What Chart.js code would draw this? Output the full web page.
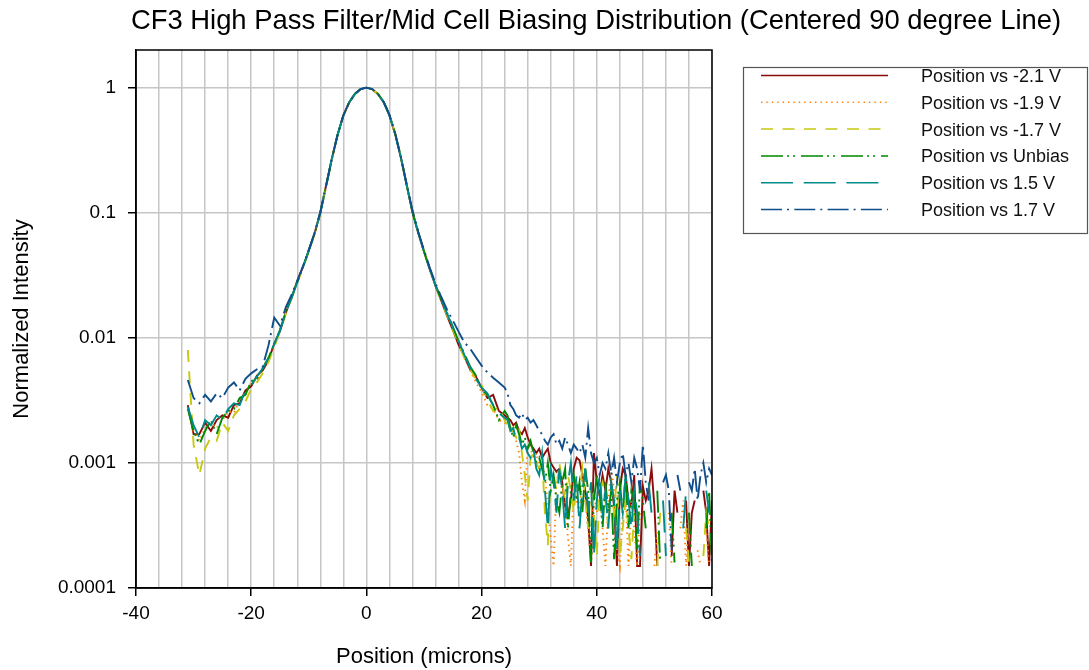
<!DOCTYPE html>
<html>
<head>
<meta charset="utf-8">
<script src="https://cdn.jsdelivr.net/npm/chart.js@4.4.0/dist/chart.umd.min.js"></script>
<style>
  body { margin: 0; background: #fff; }
</style>
</head>
<body>
<canvas id="myChart" width="1089" height="670"></canvas>
<script>
const chartTitle = `CF3 High Pass Filter/Mid Cell Biasing Distribution (Centered 90 degree Line)`
const seriesNames = [`Position vs -2.1 V`, `Position vs -1.9 V`, `Position vs -1.7 V`, `Position vs Unbias`, `Position vs 1.5 V`, `Position vs 1.7 V`]
const yTicks = [0.0001, 0.001, 0.01, 0.1, 1]

// position in microns
const positions = [
  -31,-30,-29,-28,-27,-26,-25,-24,-23,-22,-21,-20,
  -19,-18,-17,-16,-15,-14,-13,-12,-11,-10,-9,-8,
  -7,-6,-5,-4,-3,-2,-1,0,1,2,3,4,
  5,6,7,8,9,10,11,12,13,14,15,16,
  17,18,19,20,21,22,23,24,
  24.5,25,25.5,26,26.5,27,27.5,28,28.5,29,29.5,30,
  30.5,31,31.5,32,32.5,33,33.5,34,34.5,35,35.5,36,
  36.5,37,37.5,38,38.5,39,39.5,40,40.5,41,41.5,42,
  42.5,43,43.5,44,44.5,45,45.5,46,46.5,47,47.5,48,
  48.5,49,49.5,50,50.5,51,51.5,52,52.5,53,53.5,54,
  54.5,55,55.5,56,56.5,57,57.5,58,58.5,59,59.5,60
]

const minus21 = [
  0.0029,0.0017,0.0017,0.0021,0.0018,0.0022,0.0024,0.0023,0.0029,0.0030,0.0038,0.0041,
  0.0050,0.0055,0.0066,0.0090,0.0113,0.0158,0.021,0.0285,0.037,0.050,0.068,0.101,
  0.165,0.27,0.42,0.6,0.762,0.89,0.975,1,0.972,0.89,0.765,0.6,
  0.425,0.274,0.166,0.101,0.069,0.049,0.0352,0.026,0.0198,0.015,0.0116,0.0088,
  0.0071,0.0056,0.0049,0.0040,0.0033,0.0035,0.0026,0.0024,
  0.0023,0.0022,0.0020,0.0021,0.0018,0.0017,0.0019,0.0016,0.0014,0.0013,0.0012,0.0013,
  0.0011,0.0012,0.0013,0.0010,0.00092,0.00085,0.0009,0.0007,0.00045,0.00038,0.0005,0.0009,
  0.0011,0.00105,0.0008,0.0006,0.00035,0.00015,0.0012,0.0007,0.00055,0.0008,0.0006,0.0009,
  0.0007,0.00045,0.00015,0.0006,0.0009,0.0008,0.0005,0.00045,0.0008,0.00015,0.00015,0.00065,
  0.0005,0.0006,0.0009,0.00045,0.00015,null,null,null,null,0.00018,0.0006,0.0004,
  null,null,0.0005,0.00015,0.0004,0.0005,null,null,0.0006,0.0004,0.00015,0.0005
]

const minus19 = [
  0.0027,0.0018,0.0015,0.0019,0.0021,0.0019,0.0022,0.0026,0.0025,0.0032,0.0035,0.0044,
  0.0046,0.0058,0.0070,0.0086,0.0116,0.0162,0.0212,0.028,0.0372,0.0502,0.068,0.1,
  0.163,0.27,0.421,0.6,0.76,0.89,0.975,1,0.973,0.891,0.767,0.603,
  0.427,0.275,0.166,0.102,0.0692,0.049,0.0355,0.0265,0.0201,0.0153,0.0119,0.0092,
  0.0071,0.0055,0.0044,0.0037,0.0029,0.0027,0.0022,0.0021,
  0.0020,0.0019,0.0017,0.0015,0.0012,0.0007,0.0005,0.0014,0.0013,0.0011,0.0012,0.0009,
  0.0010,0.0008,0.00045,0.00025,0.00015,0.0007,0.0009,0.0006,0.0005,0.00025,0.00015,0.0007,
  0.0005,0.0004,0.0008,0.0005,0.0003,0.00016,0.0006,0.0004,0.0007,0.0003,0.00015,0.0005,
  0.0009,0.0006,0.0002,0.00015,0.0004,0.0006,0.00015,0.0005,0.0003,0.00015,0.0004,null,
  null,null,null,0.00015,0.0003,null,null,null,0.0004,0.00015,null,null,
  0.0003,0.0005,0.00015,0.0004,null,null,0.0002,0.00015,null,0.0003,0.00015,null
]

const minus17 = [
  0.0080,0.0014,0.0008,0.0013,0.0016,0.0015,0.0021,0.0018,0.0024,0.0027,0.0031,0.0039,
  0.0044,0.0052,0.0064,0.0084,0.0112,0.0155,0.0205,0.0275,0.036,0.049,0.067,0.098,
  0.16,0.265,0.415,0.595,0.758,0.888,0.975,1,0.975,0.895,0.772,0.61,
  0.432,0.28,0.169,0.104,0.07,0.0495,0.036,0.0262,0.0198,0.0152,0.0117,0.009,
  0.0069,0.0058,0.0046,0.0042,0.0032,0.0026,0.0028,0.0022,
  0.0020,0.0021,0.0018,0.0016,0.0019,0.0012,0.0008,0.0005,0.0011,0.0012,0.0010,0.0009,
  0.0011,0.0004,0.00022,0.0009,0.0008,0.0006,0.0010,0.0007,0.0005,0.0008,0.0006,0.0004,
  0.0007,0.0006,0.0009,0.0005,0.0003,0.0007,0.0004,0.00018,0.0006,0.0007,0.0005,0.0003,
  0.0006,0.0004,0.0008,0.00018,0.0003,0.0005,0.0003,0.00017,0.0004,null,null,null,
  null,null,null,null,0.00015,0.0004,null,null,null,null,null,null,
  null,null,0.0003,0.00016,null,null,null,null,0.00018,0.0004,0.0003,0.0002
]

const unbias = [
  0.0027,0.0018,0.0014,0.0018,0.0022,0.0017,0.0023,0.0026,0.0027,0.0033,0.0035,0.0045,
  0.0047,0.0057,0.0069,0.0089,0.0116,0.0161,0.021,0.028,0.037,0.05,0.068,0.1,
  0.164,0.27,0.42,0.6,0.76,0.89,0.975,1,0.973,0.891,0.767,0.603,
  0.427,0.275,0.166,0.102,0.0692,0.049,0.0355,0.0263,0.0202,0.0158,0.0123,0.0094,
  0.0075,0.0059,0.0050,0.0039,0.0035,0.0029,0.0022,0.0026,
  0.0024,0.0019,0.0016,0.0020,0.0017,0.0014,0.0016,0.0013,0.0015,0.0012,0.0010,0.0011,
  0.0009,0.0007,0.0010,0.0006,0.0008,0.0005,0.0004,0.0007,0.0009,0.0003,0.0006,0.0008,
  0.0005,0.0007,0.0004,0.0009,0.0006,0.00016,0.0005,0.0008,0.0006,0.0003,0.0007,0.0004,
  0.0006,0.00017,0.0005,0.0007,0.0004,0.0008,0.0003,0.0006,0.0005,0.0002,0.0007,0.0005,
  0.0003,null,null,null,0.0006,0.00016,null,null,null,0.0004,0.00016,null,
  null,null,null,0.0004,0.00015,null,null,null,null,0.0003,0.0006,0.00016
]

const plus15 = [
  0.0028,0.0020,0.0016,0.0022,0.0020,0.0024,0.0022,0.0027,0.0030,0.0029,0.0038,0.0042,
  0.0049,0.0057,0.0069,0.0089,0.0114,0.0159,0.0208,0.0278,0.0368,0.05,0.068,0.1,
  0.163,0.27,0.42,0.6,0.76,0.89,0.975,1,0.973,0.891,0.767,0.603,
  0.427,0.275,0.166,0.102,0.0692,0.049,0.0355,0.0264,0.0203,0.0157,0.0121,0.0095,
  0.0073,0.0058,0.0047,0.0040,0.0036,0.0029,0.0025,0.0023,
  0.0022,0.0018,0.0019,0.0015,0.0016,0.0013,0.0014,0.0012,0.0011,0.0013,0.0009,0.0008,
  0.0012,0.0006,0.0003,0.0009,0.0007,0.0004,0.0009,0.0006,0.0003,0.0007,0.0010,0.0005,
  0.0008,0.0003,0.0006,0.0009,0.0004,0.0007,0.00018,0.0005,0.0008,0.0004,0.0006,0.0003,
  0.0007,0.0005,0.0002,0.0006,0.0004,0.0008,0.0005,0.0003,0.0006,0.0004,0.00018,null,
  null,0.0007,0.0004,null,null,null,0.0005,0.00018,null,null,null,null,
  null,0.0003,0.0006,null,null,null,null,null,null,0.0006,0.0004,null
]

const plus17 = [
  0.0046,0.0033,0.0030,0.0035,0.0031,0.0036,0.0033,0.0040,0.0044,0.0038,0.0047,0.0052,
  0.0056,0.0059,0.0087,0.0145,0.0125,0.0175,0.022,0.0285,0.0375,0.0505,0.069,0.101,
  0.164,0.27,0.42,0.6,0.76,0.89,0.975,1,0.973,0.891,0.767,0.605,
  0.43,0.277,0.168,0.104,0.0705,0.0502,0.0365,0.0272,0.0212,0.0168,0.0138,0.0112,
  0.0092,0.0082,0.0070,0.0060,0.0053,0.0048,0.0044,0.0040,
  0.0036,0.0029,0.0027,0.0024,0.0023,0.0025,0.0022,0.0023,0.0021,0.0022,0.0020,0.0018,
  0.0017,0.0015,0.0014,0.0016,0.0017,0.0014,0.0015,0.0013,0.0016,0.0014,0.0012,0.0014,
  0.0013,0.0012,0.0014,0.0011,0.0019,0.0012,0.0010,0.0011,0.0008,0.0010,0.0009,0.0012,
  0.0008,0.0011,0.0007,0.0010,0.0012,0.0008,0.0010,0.0007,0.0011,0.0009,0.0006,0.0014,
  0.0007,0.0005,null,null,null,null,0.0007,0.0008,0.0006,0.0002,null,0.0008,
  0.0006,null,null,0.0007,0.0006,0.0009,0.0005,0.0008,0.0010,0.0007,0.0009,0.0008
]

const allSeries = [minus21, minus19, minus17, unbias, plus15, plus17]
const colors = [`#8b0a0a`, `#ff8000`, `#c8c810`, `#008a00`, `#008b8b`, `#104e8b`]
const dashes = [[], [1.4, 4], [12, 9.5], [22, 4, 2, 4, 2, 6], [32, 10.7], [21, 5, 2, 5.3]]

const font = `"Liberation Sans", Arial, sans-serif`

// frame, title and legend box
const extras = {
  id: `extras`,
  afterDraw(chart){
    const ctx = chart.ctx
    const a = chart.chartArea
    ctx.save()
    ctx.strokeStyle = `#000`
    ctx.lineWidth = 1.5
    ctx.strokeRect(a.left, a.top, a.right - a.left, a.bottom - a.top)

    ctx.fillStyle = `#000`
    ctx.font = `27.4px ${font}`
    ctx.textAlign = `center`
    ctx.textBaseline = `alphabetic`
    ctx.fillText(chartTitle, 596, 29)

    ctx.strokeStyle = `#555`
    ctx.lineWidth = 1.2
    ctx.strokeRect(743.5, 67.5, 344, 166)
    ctx.font = `18px ${font}`
    ctx.textAlign = `left`
    chart.data.datasets.forEach((ds, i) => {
      const y = 75.5 + 26.8 * i
      ctx.strokeStyle = ds.borderColor
      ctx.lineWidth = 1.5
      ctx.setLineDash(ds.borderDash)
      ctx.beginPath()
      ctx.moveTo(761, y)
      ctx.lineTo(888, y)
      ctx.stroke()
      ctx.setLineDash([])
      ctx.fillStyle = `#111`
      ctx.fillText(ds.label, 921, y + 6.5)
    })
    ctx.restore()
  }
}

const ctx = document.getElementById(`myChart`)
const myChart = new Chart(ctx, {
  type: `line`,
  data: {
    datasets: allSeries.map((vals, i) => ({
      label: seriesNames[i],
      data: positions.map((x, j) => ({x: x, y: vals[j]})),
      borderColor: colors[i],
      borderDash: dashes[i],
      borderWidth: 1.9,
      pointRadius: 0,
      fill: false,
      tension: 0,
      spanGaps: false,
      order: 6 - i
    }))
  },
  options: {
    responsive: false,
    animation: false,
    layout: { padding: { left: 0, top: 50, right: 377, bottom: 0 } },
    plugins: {
      legend: { display: false },
      title: { display: false },
      tooltip: { enabled: false }
    },
    scales: {
      x: {
        type: `linear`,
        min: -40,
        max: 60,
        afterFit: s => { s.height = 82 },
        ticks: {
          stepSize: 4,
          autoSkip: false,
          maxRotation: 0,
          padding: 6,
          color: `#000`,
          font: { size: 19, family: font },
          callback: v => (v % 20 === 0 ? v : ``)
        },
        grid: {
          color: `#c6c6c6`,
          lineWidth: 1.5,
          tickLength: 8,
          tickWidth: 1.5,
          tickColor: c => (c.tick && c.tick.value % 20 === 0 ? `#000` : `rgba(0,0,0,0)`)
        },
        border: { color: `#000`, width: 1.5 },
        title: {
          display: true,
          text: `Position (microns)`,
          color: `#000`,
          font: { size: 22, family: font },
          padding: { top: 0, bottom: 0 }
        }
      },
      y: {
        type: `logarithmic`,
        min: 0.0001,
        max: 2,
        afterFit: s => { s.width = 136 },
        afterBuildTicks: s => { s.ticks = yTicks.map(v => ({value: v})) },
        ticks: {
          padding: 12,
          color: `#000`,
          font: { size: 19, family: font },
          callback: v => String(v)
        },
        grid: {
          color: `#c6c6c6`,
          lineWidth: 1.5,
          tickLength: 8,
          tickWidth: 1.5,
          tickColor: `#000`
        },
        border: { color: `#000`, width: 1.5 },
        title: {
          display: true,
          text: `Normalized Intensity`,
          color: `#000`,
          font: { size: 22, family: font },
          padding: { top: 9, bottom: 0 }
        }
      }
    }
  },
  plugins: [extras]
})
</script>
</body>
</html>
